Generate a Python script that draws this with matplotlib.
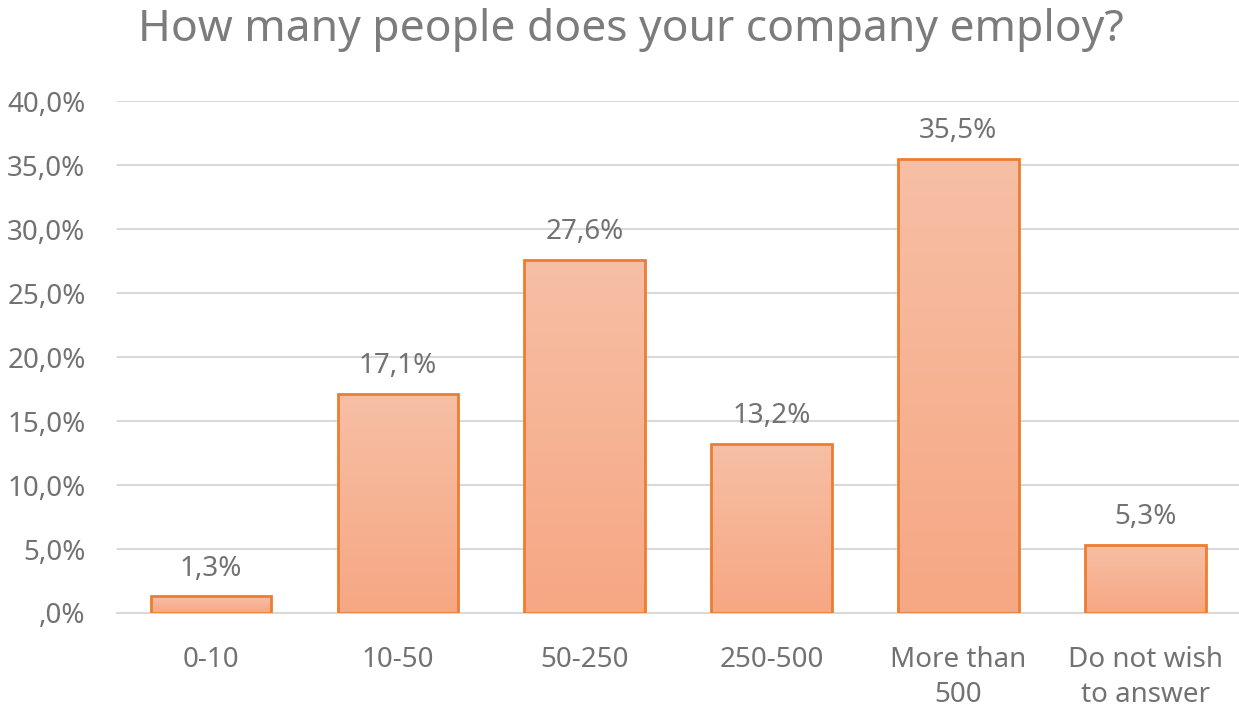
import matplotlib
matplotlib.use("Agg")
import matplotlib.pyplot as plt
import numpy as np
from matplotlib.colors import LinearSegmentedColormap
from matplotlib.ticker import FuncFormatter

categories = ["0-10", "10-50", "50-250", "250-500", "More than\n500", "Do not wish\nto answer"]
shares = [1.3, 17.1, 27.6, 13.2, 35.5, 5.3]
y_ticks = [0, 5, 10, 15, 20, 25, 30, 35, 40]

plt.rcParams["font.family"] = ["Noto Sans", "DejaVu Sans"]
text_grey = "#727272"
grid_grey = "#d9d9d9"
edge = "#ed7d31"
fill = LinearSegmentedColormap.from_list("fill", ["#f7a783", "#f6bfa5"])

fig = plt.figure(figsize=(12.39, 7.08), dpi=100)
ax = fig.add_axes([0.0948, 0.1342, 0.905, 0.723])

x = np.arange(len(categories))
bars = ax.bar(x, shares, width=0.645, facecolor="none", edgecolor=edge,
              linewidth=2, zorder=3)

# vertical gradient inside each bar, clipped to the bar outline
grad = np.linspace(0, 1, 256).reshape(-1, 1)
for b in bars:
    x0, w, h = b.get_x(), b.get_width(), b.get_height()
    im = ax.imshow(grad, cmap=fill, origin="lower", aspect="auto",
                   extent=(x0, x0 + w, 0, h), zorder=2)
    im.set_clip_path(b)

for xi, v in zip(x, shares):
    ax.annotate(f"{v:.1f}%".replace(".", ","), (xi, v), xytext=(0, 15),
                textcoords="offset points", ha="center", va="baseline",
                fontsize=20, color=text_grey)

ax.set_xlim(-0.5, len(categories) - 0.5)
ax.set_ylim(0, 40)
ax.set_yticks(y_ticks)
ax.yaxis.set_major_formatter(FuncFormatter(
    lambda v, p: ("," if v == 0 else f"{int(v)},") + "0%"))
ax.set_xticks(x)
ax.set_xticklabels(categories, linespacing=1.33)
ax.tick_params(axis="both", length=0, labelsize=20, labelcolor=text_grey)
ax.tick_params(axis="y", pad=23)
ax.tick_params(axis="x", pad=24)
ax.grid(axis="y", color=grid_grey, linewidth=1.5, zorder=0)
ax.set_axisbelow(True)
for s in ["left", "right", "top"]:
    ax.spines[s].set_visible(False)
ax.spines["bottom"].set_color(grid_grey)
ax.spines["bottom"].set_linewidth(1.5)

fig.text(0.509, 0.958, "How many people does your company employ?",
         ha="center", va="center", fontsize=32, color="#7c7c7c")

fig.savefig("out.png", dpi=100)
